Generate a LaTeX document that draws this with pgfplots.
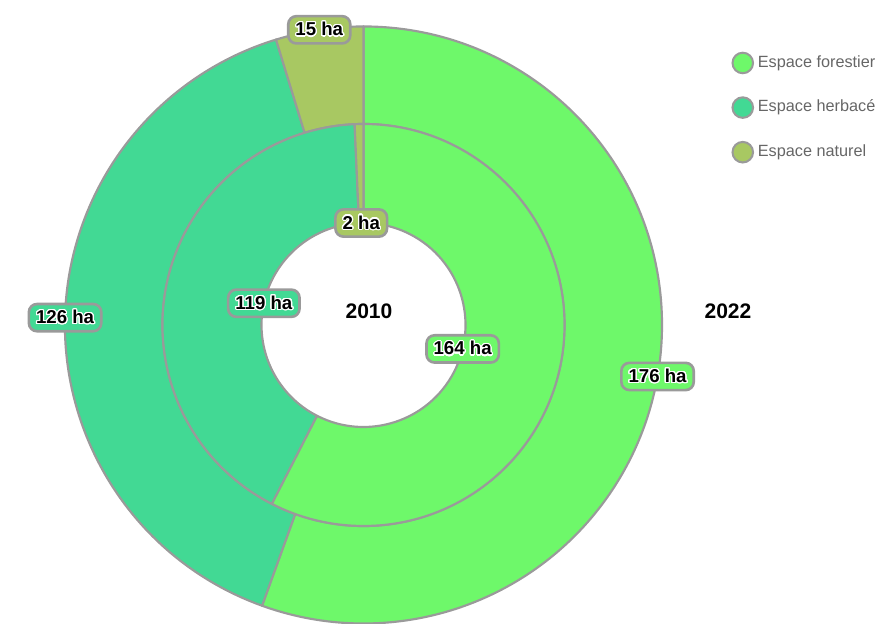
\documentclass[border=0pt]{standalone}
\usepackage{pgfplots}
\usepackage{pgfplotstable}
\pgfplotsset{compat=1.18}
\usepackage{fontspec}
\setmainfont{Liberation Sans}
\usepackage{contour}
\contourlength{0.5pt}
\contournumber{24}
\definecolor{cF}{HTML}{6EF86A}
\definecolor{cH}{HTML}{42D994}
\definecolor{cN}{HTML}{A8C862}
\definecolor{bd}{HTML}{9A9A9A}
\definecolor{lg}{HTML}{666666}

\pgfplotstableread{
year forestier herbace naturel
2010 164 119 2
2022 176 126 15
}\datatable
\pgfplotstablegetelem{0}{forestier}\of\datatable \let\Fa\pgfplotsretval
\pgfplotstablegetelem{0}{herbace}\of\datatable \let\Ha\pgfplotsretval
\pgfplotstablegetelem{0}{naturel}\of\datatable \let\Na\pgfplotsretval
\pgfplotstablegetelem{1}{forestier}\of\datatable \let\Fb\pgfplotsretval
\pgfplotstablegetelem{1}{herbace}\of\datatable \let\Hb\pgfplotsretval
\pgfplotstablegetelem{1}{naturel}\of\datatable \let\Nb\pgfplotsretval

\pgfmathsetmacro\Ta{\Fa+\Ha+\Na}
\pgfmathsetmacro\Tb{\Fb+\Hb+\Nb}
\pgfmathsetmacro\aA{90-\Fa/\Ta*360}
\pgfmathsetmacro\aB{\aA-\Ha/\Ta*360}
\pgfmathsetmacro\bA{90-\Fb/\Tb*360}
\pgfmathsetmacro\bB{\bA-\Hb/\Tb*360}
\pgfmathsetmacro\maF{(90+\aA)/2}
\pgfmathsetmacro\maH{(\aA+\aB)/2}
\pgfmathsetmacro\maN{(\aB-270)/2}
\pgfmathsetmacro\mbF{(90+\bA)/2}
\pgfmathsetmacro\mbH{(\bA+\bB)/2}
\pgfmathsetmacro\mbN{(\bB-270)/2}

\def\Rout{4.390cm}
\def\Rmid{2.956cm}
\def\Rin{1.500cm}

\newcommand\sector[5]{%
  \filldraw[fill=#1, draw=bd, line width=0.9pt, line join=round]
    ([shift={(#2:#5)}]c) arc[start angle=#2, end angle=#3, radius=#5]
    -- ([shift={(#3:#4)}]c) arc[start angle=#3, end angle=#2, radius=#4] -- cycle;}

\tikzset{lab/.style={draw=bd, line width=1.1pt, rounded corners=3.4pt,
  font=\fontsize{7.8}{8}\selectfont\bfseries, text=black,
  inner xsep=3.0pt, inner ysep=0pt, minimum height=11.4pt}}
\newcommand\hl[1]{\contour{white}{#1}}

\begin{document}
\begin{tikzpicture}
\begin{axis}[name=ax,
  width=13cm, height=9.1765cm, scale only axis,
  xmin=0, xmax=884, ymin=0, ymax=624,
  hide axis, clip=false,
  legend style={at={(axis cs:731,573)}, anchor=north west, draw=none, fill=none,
    inner sep=0pt, row sep=9.0pt, column sep=0pt,
    font=\fontsize{6.8}{8}\selectfont\color{lg},
    nodes={inner sep=1.6pt}},
  legend cell align=left,
  legend image code/.code={\filldraw[#1, draw=bd, line width=0.85pt] (4.6pt,0pt) circle (4.3pt);},
]
\addlegendimage{fill=cF}\addlegendentry{Espace forestier}
\addlegendimage{fill=cH}\addlegendentry{Espace herbacé}
\addlegendimage{fill=cN}\addlegendentry{Espace naturel}

\coordinate (c) at (axis cs:363.5,299);
% 2022 outer ring
\sector{cF}{90}{\bA}{\Rmid}{\Rout}
\sector{cH}{\bA}{\bB}{\Rmid}{\Rout}
\sector{cN}{\bB}{-270}{\Rmid}{\Rout}
% 2010 inner ring
\sector{cF}{90}{\aA}{\Rin}{\Rmid}
\sector{cH}{\aA}{\aB}{\Rin}{\Rmid}
\sector{cN}{\aB}{-270}{\Rin}{\Rmid}

\node[lab, fill=cF] at ([shift={(\mbF:\Rout)}]c) {\hl{\Fb\ ha}};
\node[lab, fill=cH] at ([shift={(\mbH:\Rout)}]c) {\hl{\Hb\ ha}};
\node[lab, fill=cN] at ([shift={(\mbN:\Rout)}]c) {\hl{\Nb\ ha}};
\node[lab, fill=cF] at ([shift={(\maF:\Rin)}]c) {\hl{\Fa\ ha}};
\node[lab, fill=cH] at ([shift={(\maH:\Rin)}]c) {\hl{\Ha\ ha}};
\node[lab, fill=cN] at ([shift={(\maN:\Rin)}]c) {\hl{\Na\ ha}};

\node[font=\fontsize{8.8}{10}\selectfont\bfseries] at (axis cs:369,313) {2010};
\node[font=\fontsize{8.8}{10}\selectfont\bfseries] at (axis cs:728,313) {2022};
\end{axis}
\pgfresetboundingbox
\useasboundingbox (ax.south west) rectangle (ax.north east);
\end{tikzpicture}
\end{document}
